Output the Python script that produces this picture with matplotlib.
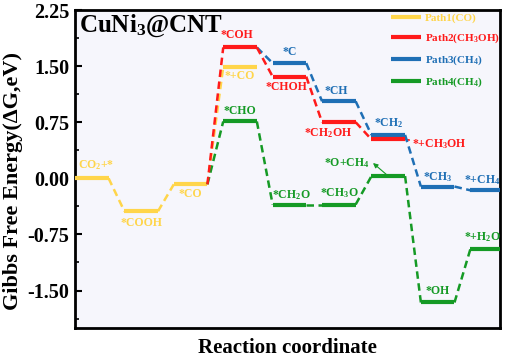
import matplotlib.pyplot as plt
from matplotlib.ticker import MultipleLocator

plt.rcParams["font.family"] = "Liberation Serif"
plt.rcParams["font.weight"] = "bold"
plt.rcParams["axes.labelweight"] = "bold"
plt.rcParams["mathtext.fontset"] = "custom"
plt.rcParams["mathtext.rm"] = "Liberation Serif:bold"
plt.rcParams["mathtext.it"] = "Liberation Serif:italic:bold"
plt.rcParams["mathtext.bf"] = "Liberation Serif:bold"

# reaction step index and free energy (eV) of each intermediate
path1_step = [0, 1, 2, 3]
path1_energy = [0.00, -0.44, -0.08, 1.49]
path1_label = ["CO$_2$+*", "*COOH", "*CO", "*+CO"]

path2_step = [2, 3, 4, 5, 6]
path2_energy = [-0.08, 1.75, 1.36, 0.75, 0.52]
path2_label = [None, "*COH", "*CHOH", "*CH$_2$OH", "*+CH$_3$OH"]

path3_step = [3, 4, 5, 6, 7, 8]
path3_energy = [1.75, 1.54, 1.03, 0.58, -0.11, -0.16]
path3_label = [None, "*C", "*CH", "*CH$_2$", "*CH$_3$", "*+CH$_4$"]

path4_step = [2, 3, 4, 5, 6, 7, 8]
path4_energy = [-0.08, 0.76, -0.35, -0.35, 0.03, -1.66, -0.95]
path4_label = [None, "*CHO", "*CH$_2$O", "*CH$_3$O", "*O+CH$_4$", "*OH", "*+H$_2$O"]

path_names = ["Path1(CO)", "Path2(CH$_3$OH)", "Path3(CH$_4$)", "Path4(CH$_4$)"]
colors = ["#FFD54A", "#FF1A1A", "#1F6FB5", "#159A25"]

# label offsets (points) from the level centre
offsets = {
    "CO$_2$+*": (2, 9.4), "*COOH": (0, -8.6), "*CO": (0, -7.2), "*+CO": (0, -6.5),
    "*COH": (-2, 8.6), "*CHOH": (-2, -7.5), "*CH$_2$OH": (-8, -7.5),
    "*+CH$_3$OH": (24, -3.6), "*C": (0, 8), "*CH": (-2, 7.5), "*CH$_2$": (0, 8.6),
    "*CH$_3$": (0, 7), "*+CH$_4$": (-3.6, 7.2), "*CHO": (0, 7.5),
    "*CH$_2$O": (1.5, 6.8), "*CH$_3$O": (0, 8), "*O+CH$_4$": (-30, 9.4),
    "*OH": (0, 8.6), "*+H$_2$O": (-3.6, 8.6),
}

width = 0.68
fs = 8.5

fig = plt.figure(figsize=(5.05, 3.58), dpi=100)
ax = fig.add_axes([0.1485, 0.084, 0.8415, 0.888])
ax.set_facecolor("#F6F6FC")

paths = [
    (path1_step, path1_energy, path1_label),
    (path2_step, path2_energy, path2_label),
    (path3_step, path3_energy, path3_label),
    (path4_step, path4_energy, path4_label),
]
zorders = [2, 4, 3, 3]

for (steps, energy, labels), name, c, z in zip(paths, path_names, colors, zorders):
    first = True
    for k in range(len(steps)):
        s, e, lab = steps[k], energy[k], labels[k]
        if k > 0:
            ps, pe = steps[k - 1], energy[k - 1]
            ax.plot([ps + width, s], [pe, e], color=c, lw=1.8,
                    dashes=(3, 1.8), zorder=z)
        if lab is None:
            continue
        ax.plot([s, s + width], [e, e], color=c, lw=3, solid_capstyle="butt",
                zorder=z + 1, label=name if first else None)
        first = False
        dx, dy = offsets[lab]
        if lab == "*O+CH$_4$":
            ax.annotate(lab, xy=(s + width / 2, e), xytext=(dx, dy),
                        textcoords="offset points", ha="center", va="center",
                        color=c, fontsize=fs)
            ax.annotate("", xy=(s + width / 2, e), xytext=(-11, 9.4),
                        textcoords="offset points",
                        arrowprops=dict(arrowstyle="<|-", color=c, lw=0.8,
                                        mutation_scale=7,
                                        shrinkA=0, shrinkB=1))
        elif lab == "*+CH$_3$OH":
            ax.annotate(lab, xy=(s + width, e), xytext=(5, -3.6),
                        textcoords="offset points", ha="left", va="center",
                        color=c, fontsize=fs,
                        arrowprops=dict(arrowstyle="-", color=c, lw=1.2,
                                        shrinkA=0, shrinkB=0))
        elif lab == "CO$_2$+*":
            ax.annotate(lab, xy=(s, e), xytext=(dx, dy),
                        textcoords="offset points", ha="left", va="center",
                        color=c, fontsize=fs)
        else:
            ax.annotate(lab, xy=(s + width / 2, e), xytext=(dx, dy),
                        textcoords="offset points", ha="center", va="center",
                        color=c, fontsize=fs)

ax.text(0.010, 0.950, "CuNi$_3$@CNT", transform=ax.transAxes, fontsize=18,
        ha="left", va="center", color="black")

ax.set_xlim(0, 8.6)
ax.set_ylim(-2.0, 2.25)
ax.yaxis.set_minor_locator(MultipleLocator(0.375))
ax.set_yticks([-1.5, -0.75, 0, 0.75, 1.5, 2.25])
ax.set_yticklabels(["-1.50", "-0.75", "0.00", "0.75", "1.50", "2.25"])
ax.set_xticks([])
ax.tick_params(axis="y", which="major", direction="in", length=5, width=1.5,
               labelsize=14.5, pad=4)
ax.tick_params(axis="y", which="minor", direction="in", length=3, width=1.2)
for sp in ax.spines.values():
    sp.set_linewidth(2)

ax.set_ylabel("Gibbs Free Energy(ΔG,eV)", fontsize=16)
ax.yaxis.set_label_coords(-0.122, 0.462)
ax.set_xlabel("Reaction coordinate", fontsize=15, labelpad=7)

leg = ax.legend(loc="upper right", bbox_to_anchor=(1.0, 0.99), frameon=False,
                fontsize=8, handlelength=2.7, handletextpad=0.35,
                labelspacing=0.75, borderaxespad=0, borderpad=0)
for txt, c in zip(leg.get_texts(), colors):
    txt.set_color(c)

fig.savefig("out.png", dpi=100)
